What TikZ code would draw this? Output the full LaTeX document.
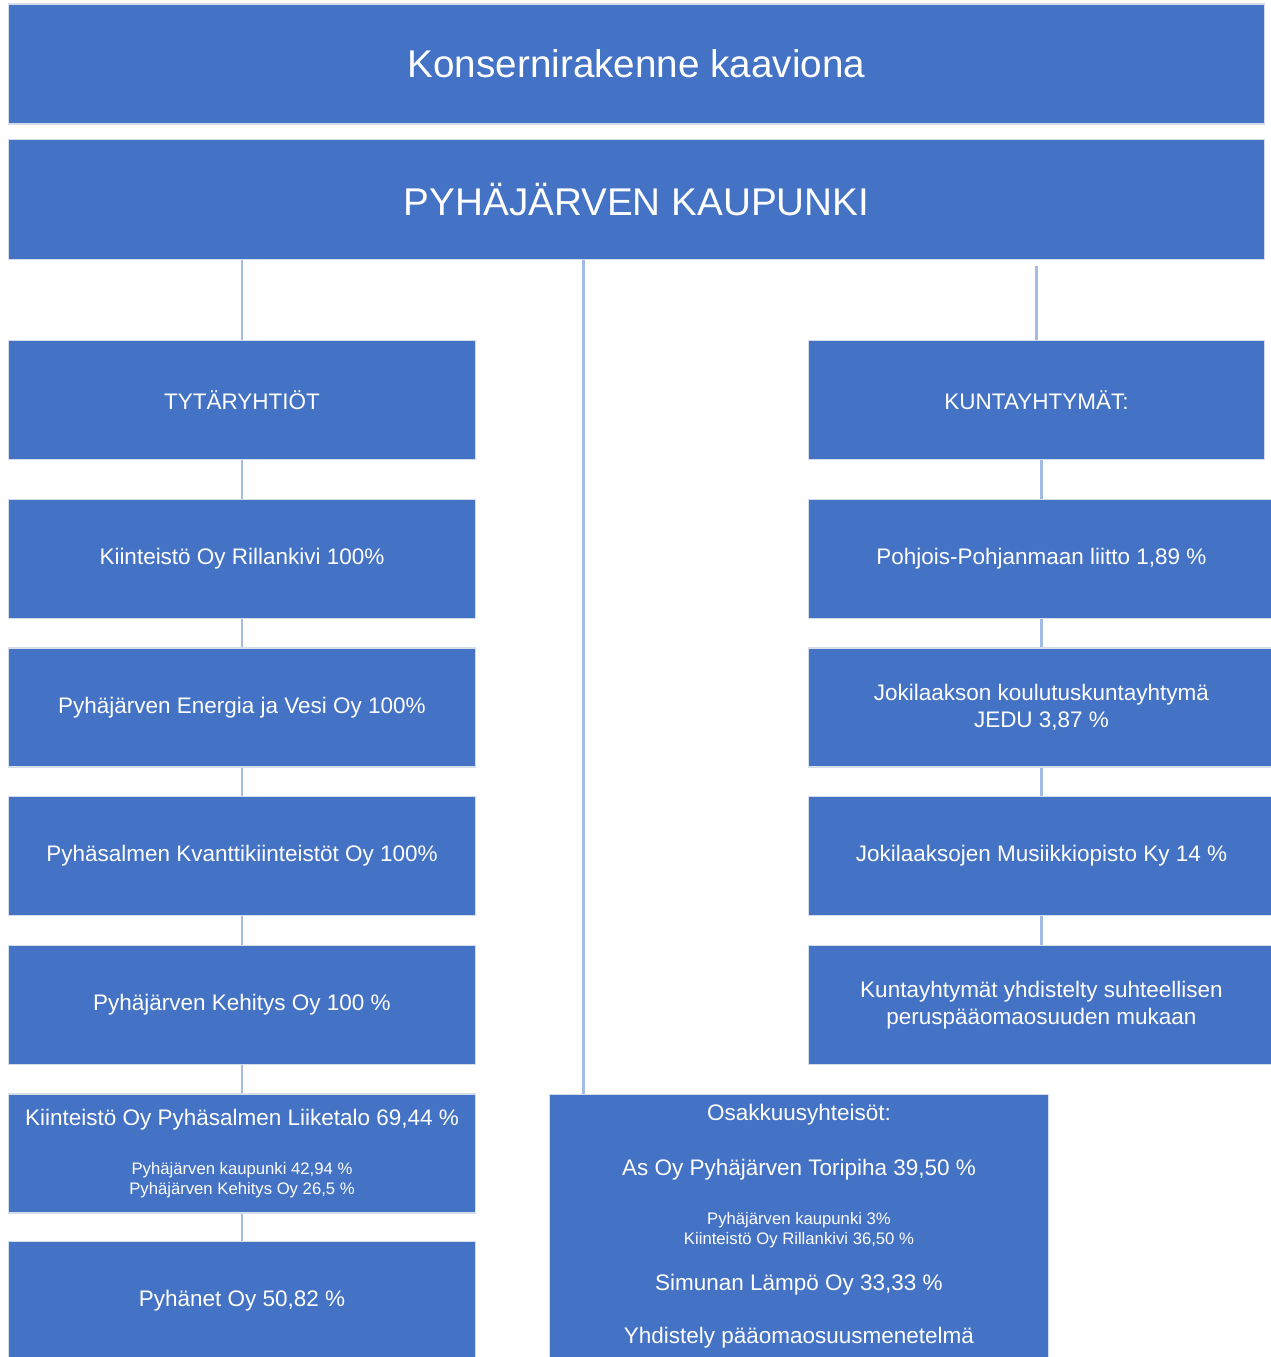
\documentclass[tikz,border=0pt]{standalone}
\usepackage{fontspec}
\setmainfont{Liberation Sans}
\definecolor{bleu}{HTML}{4472C4}
\definecolor{trait}{HTML}{A3BCE6}
\definecolor{bord}{HTML}{D5DCEA}

\begin{document}
\begin{tikzpicture}[x=0.02cm, y=-0.02cm]
\tikzset{boite/.style={draw=bord, line width=0.6pt, fill=bleu, text=white, minimum width=9.36cm, minimum height=2.38cm, inner sep=2pt, align=center, font=\fontsize{12.8}{15.4}\selectfont},
  grandeboite/.style={boite, minimum width=25.14cm, minimum height=2.4cm, font=\fontsize{22}{26}\selectfont},
  lien/.style={draw=trait, line width=1.6pt},
  texte/.style={text=white, inner sep=0pt, align=center, font=\fontsize{12.8}{15.4}\selectfont},
  petit/.style={texte, font=\fontsize{9.5}{11.3}\selectfont}}
\clip (0,0) rectangle (1271,1357);
\node[grandeboite] (titre) at (636.5,64) {Konsernirakenne kaaviona};
\node[grandeboite] (ville) at (636.5,199.5) {PYHÄJÄRVEN KAUPUNKI};
\node[boite] (tyt) at (242,400) {TYTÄRYHTIÖT};
\node[boite, minimum width=9.14cm] (kunt) at (1036.5,400) {KUNTAYHTYMÄT:};
% tytaryhtiot
\node[boite] (L1) at (242,559) {Kiinteistö Oy Rillankivi 100\%};
\node[boite] (L2) at (242,707.5) {Pyhäjärven Energia ja Vesi Oy 100\%};
\node[boite] (L3) at (242,856) {Pyhäsalmen Kvanttikiinteistöt Oy 100\%};
\node[boite] (L4) at (242,1005) {Pyhäjärven Kehitys Oy 100 \%};
\node[boite] (L5) at (242,1153.5) {};
\node[texte] (L5a) at (242,1120) {Kiinteistö Oy Pyhäsalmen Liiketalo 69,44 \%};
\node[petit] (L5b) at (242,1180) {Pyhäjärven kaupunki 42,94 \%\\Pyhäjärven Kehitys Oy 26,5 \%};
\node[boite] (L6) at (242,1301) {Pyhänet Oy 50,82 \%};
% kuntayhtymat
\node[boite, minimum width=9.34cm] (R1) at (1041.5,559) {Pohjois-Pohjanmaan liitto 1,89 \%};
\node[boite, minimum width=9.34cm] (R2) at (1041.5,707.5) {Jokilaakson koulutuskuntayhtymä\\JEDU 3,87 \%};
\node[boite, minimum width=9.34cm] (R3) at (1041.5,856) {Jokilaaksojen Musiikkiopisto Ky 14 \%};
\node[boite, minimum width=9.34cm] (R4) at (1041.5,1005) {Kuntayhtymät yhdistelty suhteellisen\\peruspääomaosuuden mukaan};
% osakkuusyhteisot
\node[boite, minimum width=10cm, minimum height=5.44cm] (osak) at (799,1230) {};
\node[texte] (O1) at (799,1115) {Osakkuusyhteisöt:};
\node[texte] (O2) at (799,1170) {As Oy Pyhäjärven Toripiha 39,50 \%};
\node[petit] (O3) at (799,1230) {Pyhäjärven kaupunki 3\%\\Kiinteistö Oy Rillankivi 36,50 \%};
\node[texte] (O4) at (799,1285) {Simunan Lämpö Oy 33,33 \%};
\node[texte] (O5) at (799,1338) {Yhdistely pääomaosuusmenetelmä};
\draw[lien] (tyt.north) -- (tyt.north |- ville.south);
\draw[lien] (R1.north) -- (R1.north |- kunt.south);
\draw[lien] (kunt.north) -- ([yshift=-0.12cm]kunt.north |- ville.south);
\draw[lien] ([xshift=0.7cm]osak.north west) -- ([xshift=0.7cm]osak.north west |- ville.south);
\draw[lien] (L1) -- (tyt);
\draw[lien] (L2) -- (L1);
\draw[lien] (L3) -- (L2);
\draw[lien] (L4) -- (L3);
\draw[lien] (L5) -- (L4);
\draw[lien] (L6) -- (L5);
\draw[lien] (R2) -- (R1);
\draw[lien] (R3) -- (R2);
\draw[lien] (R4) -- (R3);
\end{tikzpicture}
\end{document}
